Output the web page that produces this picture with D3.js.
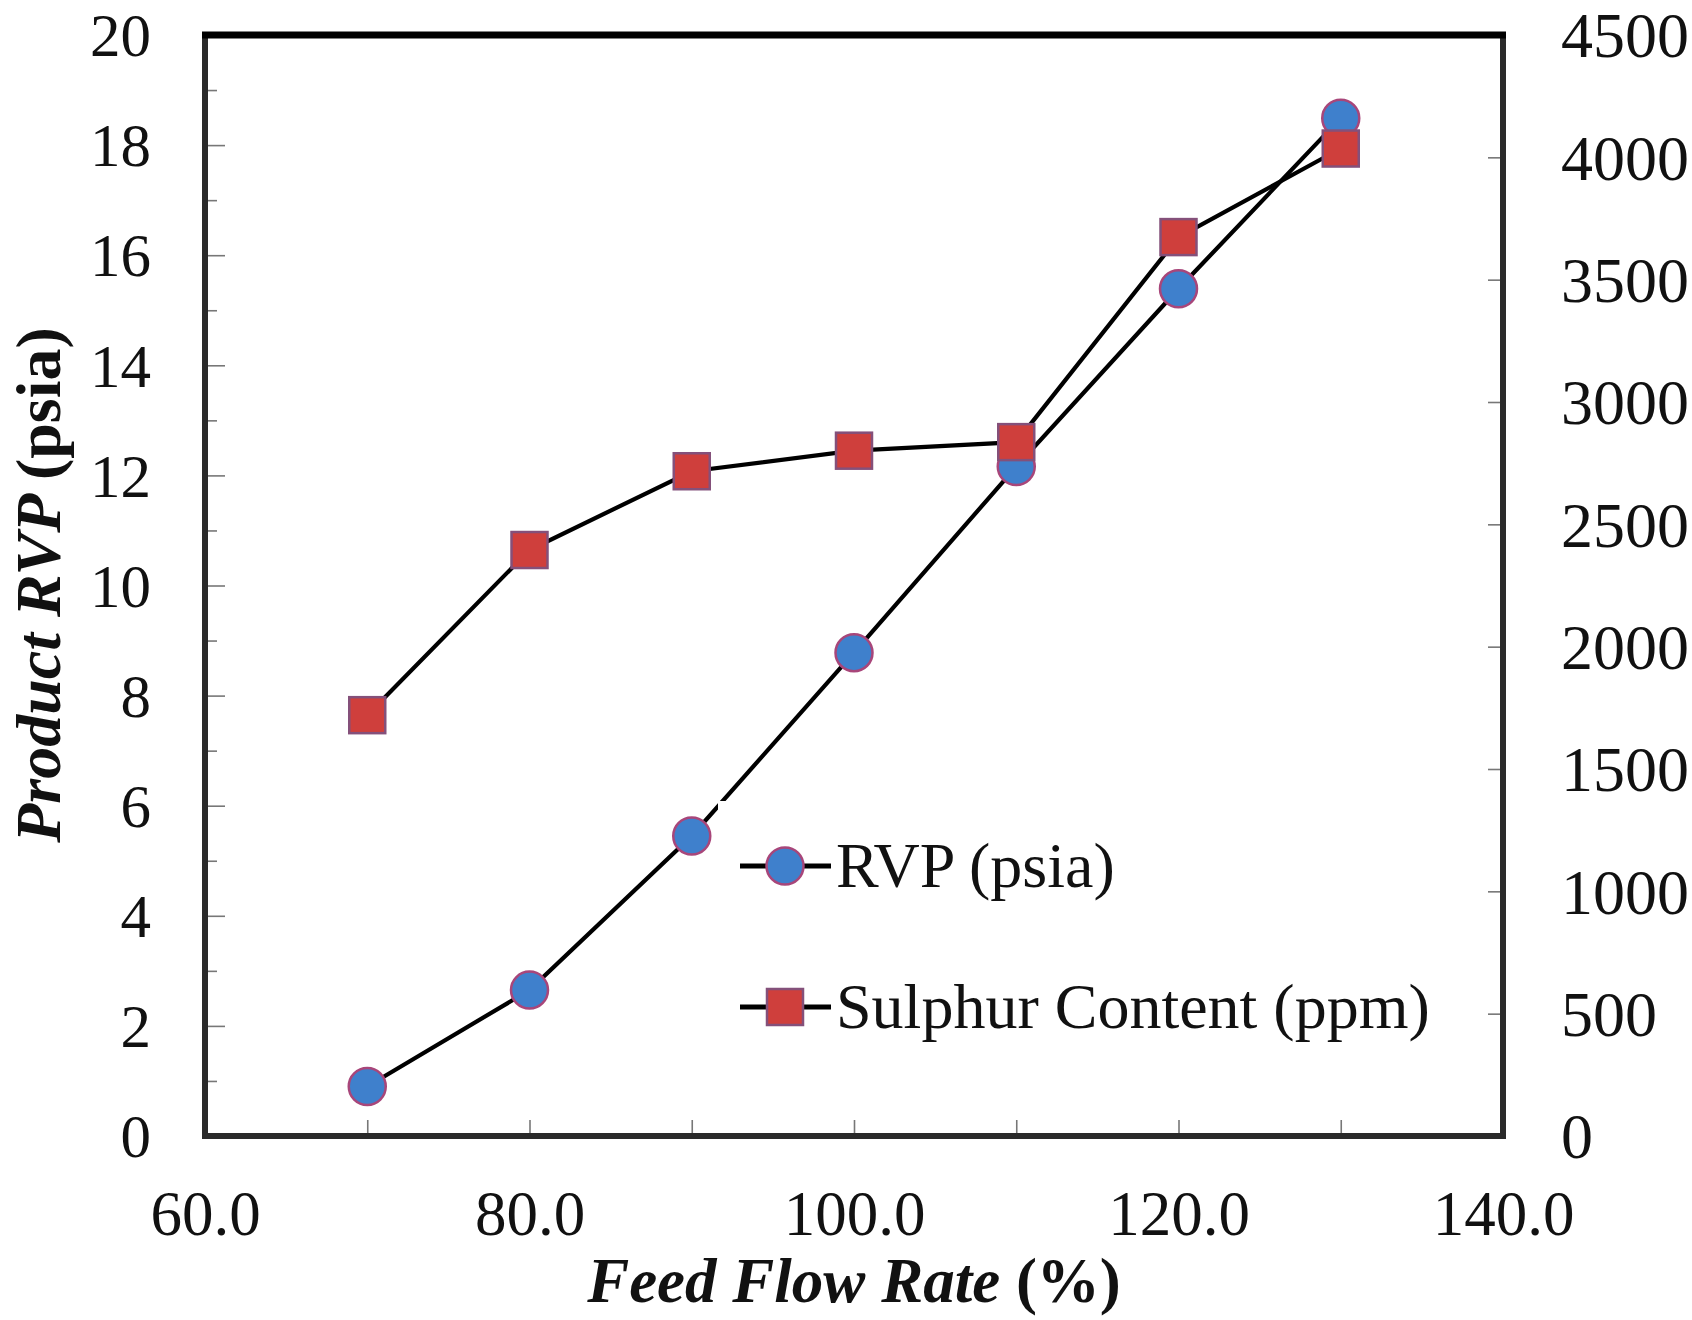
<!DOCTYPE html>
<html>
<head>
<meta charset="utf-8">
<script src="https://cdn.jsdelivr.net/npm/d3@7"></script>
<style>
  html, body { margin: 0; padding: 0; background: #fff; }
  svg { display: block; }
  text { font-family: "Liberation Serif", "Times New Roman", serif; fill: #111; }
</style>
</head>
<body>
<svg id="chart" width="1692" height="1320"></svg>
<script>
// ---- data ----
const feedFlow = [70, 80, 90, 100, 110, 120, 130];
const rvpPsia = [0.90, 2.65, 5.45, 8.78, 12.16, 15.39, 18.49];
const sulphurPpm = [1720, 2395, 2717, 2801, 2836, 3674, 4036];
const xTicks = [60, 80, 100, 120, 140];
const xMinorTicks = [60, 70, 80, 90, 100, 110, 120, 130, 140];
const leftTicks = [0, 2, 4, 6, 8, 10, 12, 14, 16, 18, 20];
const leftMinorTicks = [1, 3, 5, 7, 9, 11, 13, 15, 17, 19];
const rightTicks = [0, 500, 1000, 1500, 2000, 2500, 3000, 3500, 4000, 4500];
const seriesNames = ["RVP (psia)", "Sulphur Content (ppm)"];

// ---- layout ----
const L = 205, R = 1503, T = 35, B = 1136;
const svg = d3.select("#chart");
const x = d3.scaleLinear().domain([60, 140]).range([L, R]);
const yL = d3.scaleLinear().domain([0, 20]).range([B, T]);
const yR = d3.scaleLinear().domain([0, 4500]).range([B, T]);
const FS = 61;

const tickStyle = g => {
  g.select(".domain").remove();
  g.selectAll(".tick line").attr("stroke", "#777").attr("stroke-width", 1.6);
  g.selectAll(".tick text").attr("font-family", "Liberation Serif").attr("font-size", FS).attr("fill", "#111");
};

// left minor ticks
svg.append("g").attr("transform", `translate(${L},0)`)
  .call(d3.axisLeft(yL).tickValues(leftMinorTicks).tickSizeInner(-12).tickSizeOuter(0).tickFormat(""))
  .call(tickStyle);
// left major
svg.append("g").attr("transform", `translate(${L},0)`)
  .call(d3.axisLeft(yL).tickValues(leftTicks).tickSizeInner(-20).tickSizeOuter(0).tickPadding(54).tickFormat(d3.format("d")))
  .call(tickStyle)
  .call(g => g.selectAll(".tick text").attr("dy", "0.34em"));
// right
svg.append("g").attr("transform", `translate(${R},0)`)
  .call(d3.axisRight(yR).tickValues(rightTicks).tickSizeInner(-15).tickSizeOuter(0).tickPadding(58).tickFormat(d3.format("d")))
  .call(tickStyle)
  .call(g => g.selectAll(".tick text").attr("font-size", 64).attr("dy", "0.34em"));
// bottom minor ticks
svg.append("g").attr("transform", `translate(0,${B})`)
  .call(d3.axisBottom(x).tickValues(xMinorTicks).tickSizeInner(-16).tickSizeOuter(0).tickFormat(""))
  .call(tickStyle);
// bottom labels
svg.append("g").attr("transform", `translate(0,${B})`)
  .call(d3.axisBottom(x).tickValues(xTicks).tickSizeInner(0).tickSizeOuter(0).tickPadding(54).tickFormat(d3.format(".1f")))
  .call(tickStyle)
  .call(g => g.selectAll(".tick text").attr("font-size", 63).attr("dy", "0.72em"));

// frame
svg.append("line").attr("x1", L).attr("x2", L).attr("y1", T - 3).attr("y2", B + 3).attr("stroke", "#2a2a2a").attr("stroke-width", 6);
svg.append("line").attr("x1", R).attr("x2", R).attr("y1", T - 3).attr("y2", B + 3).attr("stroke", "#2a2a2a").attr("stroke-width", 6);
svg.append("line").attr("x1", L - 3).attr("x2", R + 3).attr("y1", B).attr("y2", B).attr("stroke", "#2a2a2a").attr("stroke-width", 6);
svg.append("line").attr("x1", L - 3).attr("x2", R + 3).attr("y1", T).attr("y2", T).attr("stroke", "#000").attr("stroke-width", 7);

// series
const rvpData = feedFlow.map((f, i) => ({ x: f, y: rvpPsia[i] }));
const sulData = feedFlow.map((f, i) => ({ x: f, y: sulphurPpm[i] }));
const lineL = d3.line().x(d => x(d.x)).y(d => yL(d.y));
const lineR = d3.line().x(d => x(d.x)).y(d => yR(d.y));

svg.append("path").datum(rvpData).attr("d", lineL).attr("fill", "none").attr("stroke", "#000").attr("stroke-width", 4.2);
svg.append("path").datum(sulData).attr("d", lineR).attr("fill", "none").attr("stroke", "#000").attr("stroke-width", 4.2);

const circFill = "#3f80cc", circStroke = "#a8467a";
const sqFill = "#cf3f3c", sqStroke = "#84507a";
const RAD = 18.5, SQ = 36;

svg.append("g").selectAll("circle").data(rvpData).join("circle")
  .attr("cx", d => x(d.x)).attr("cy", d => yL(d.y)).attr("r", RAD)
  .attr("fill", circFill).attr("stroke", circStroke).attr("stroke-width", 2.5);
svg.append("g").selectAll("rect").data(sulData).join("rect")
  .attr("x", d => x(d.x) - SQ / 2).attr("y", d => yR(d.y) - SQ / 2).attr("width", SQ).attr("height", SQ)
  .attr("fill", sqFill).attr("stroke", sqStroke).attr("stroke-width", 2.5);

// legend
const lg = svg.append("g");
lg.append("rect").attr("x", 718).attr("y", 801).attr("width", 722).attr("height", 270).attr("fill", "#fff");
const legendRows = [
  { name: seriesNames[0], y: 866, shape: "circle" },
  { name: seriesNames[1], y: 1007, shape: "square" }
];
legendRows.forEach(r => {
  lg.append("line").attr("x1", 740).attr("x2", 831).attr("y1", r.y).attr("y2", r.y).attr("stroke", "#000").attr("stroke-width", 5);
  if (r.shape === "circle") {
    lg.append("circle").attr("cx", 785).attr("cy", r.y).attr("r", RAD).attr("fill", circFill).attr("stroke", circStroke).attr("stroke-width", 2.5);
  } else {
    lg.append("rect").attr("x", 785 - SQ / 2).attr("y", r.y - SQ / 2).attr("width", SQ).attr("height", SQ).attr("fill", sqFill).attr("stroke", sqStroke).attr("stroke-width", 2.5);
  }
  lg.append("text").attr("x", 836).attr("y", r.y + 21).attr("font-size", 64).text(r.name);
});

// axis titles
const xt = svg.append("text").attr("x", 854).attr("y", 1302).attr("text-anchor", "middle").attr("font-size", 63).attr("font-weight", "bold");
xt.append("tspan").attr("font-style", "italic").text("Feed Flow Rate ");
xt.append("tspan").text("(%)");

const yt = svg.append("text").attr("transform", "translate(60,585) rotate(-90)").attr("text-anchor", "middle").attr("font-size", 64).attr("font-weight", "bold");
yt.append("tspan").attr("font-style", "italic").text("Product RVP ");
yt.append("tspan").text("(psia)");
</script>
</body>
</html>
